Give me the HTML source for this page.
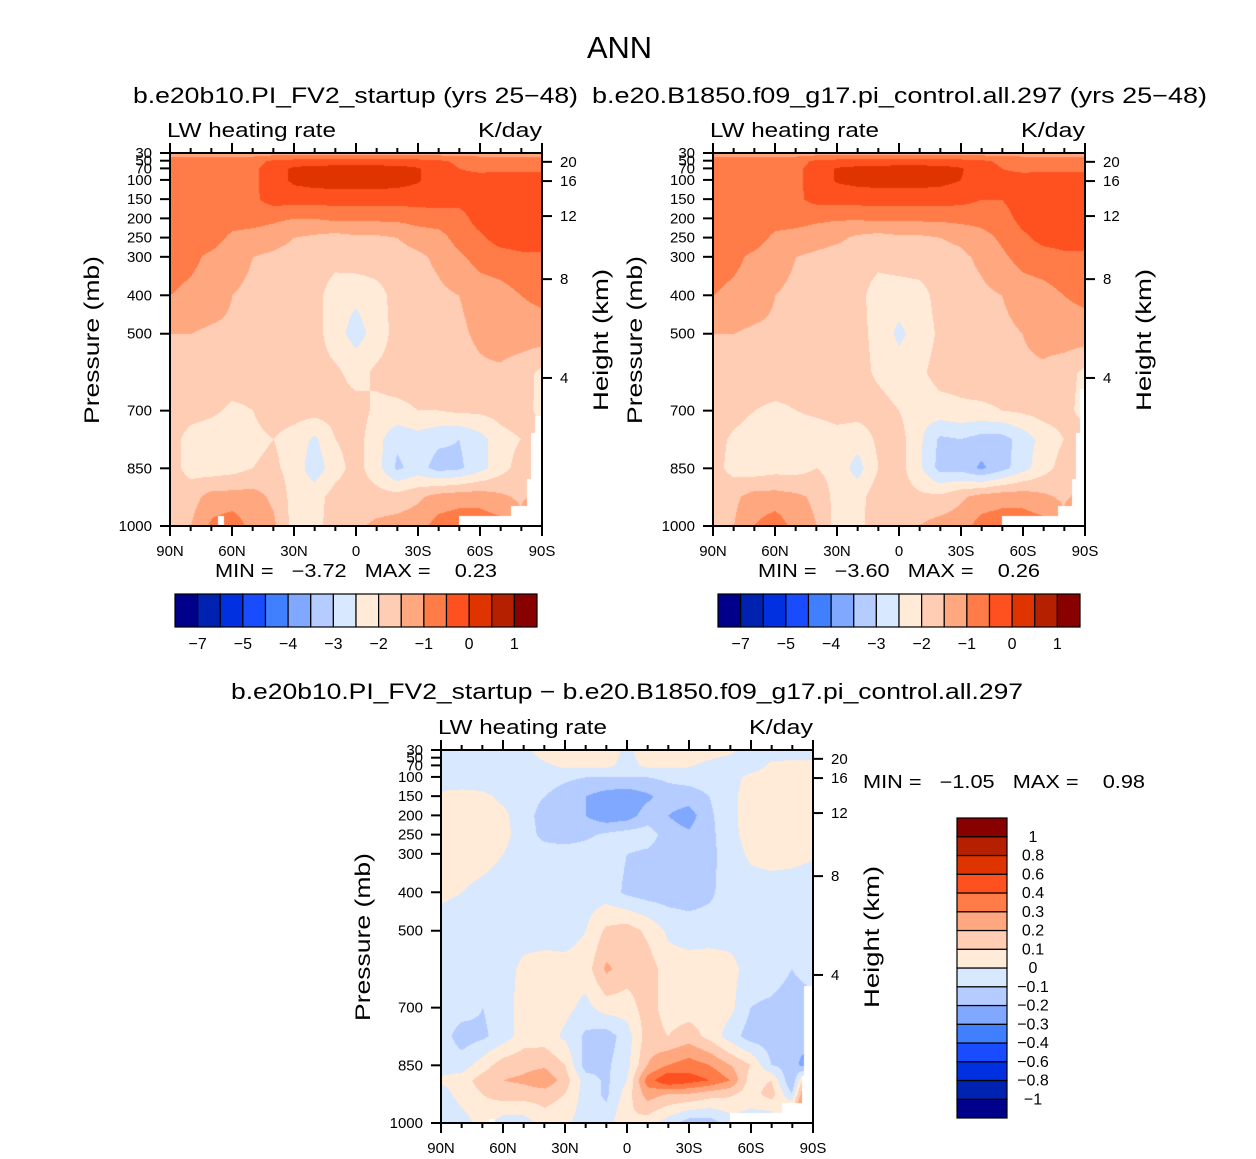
<!DOCTYPE html>
<html><head><meta charset="utf-8">
<style>
html,body{margin:0;padding:0;background:#fff;}
#wrap{position:relative;width:1256px;height:1159px;overflow:hidden;background:#fff;}
canvas{position:absolute;}
svg{position:absolute;left:0;top:0;}
text{font-family:"Liberation Sans",sans-serif;fill:#000;}
</style></head>
<body>
<div id="wrap">
<canvas id="c1" width="372" height="373" style="left:170px;top:153px"></canvas>
<canvas id="c2" width="372" height="373" style="left:713px;top:153px"></canvas>
<canvas id="c3" width="372" height="373" style="left:441px;top:750px"></canvas>
<svg id="ov" width="1256" height="1159"></svg>
</div>
<script>
// ---------------- data ----------------
const colors = ["#00008a","#0022b0","#0030e0","#1a4cff","#4080ff","#80a8ff","#b4ccff","#d8e8ff","#ffebd8","#ffccb4","#ffa880","#ff7c48","#ff5020","#e03400","#b42000","#880000"];
const latLabels = ["90N","60N","30N","0","30S","60S","90S"];
const pTicks = [30,50,70,100,150,200,250,300,400,500,700,850,1000];
const pTickLabels = ["30","50","70","100","150","200","250","300","400","500","700","850","1000"];
const kmTickLabels = ["20","16","12","8","4"];
const kmTickPressure = [53,103,194,358,615];
const thresholdsTop = [-7,-6,-5,-4.5,-4,-3.5,-3,-2.5,-2,-1.5,-1,-0.5,0,0.5,1];
const topBarLabels = ["−7","−5","−4","−3","−2","−1","0","1"];
const thresholdsDiff = [-1,-0.8,-0.6,-0.4,-0.3,-0.2,-0.1,0,0.1,0.2,0.3,0.4,0.6,0.8,1];
const diffBarLabels = ["1","0.8","0.6","0.4","0.3","0.2","0.1","0","−0.1","−0.2","−0.3","−0.4","−0.6","−0.8","−1"];
const levelsTop = [30,50,70,100,150,200,250,300,400,500,600,700,775,850,925,1000];
const levelsDiff = [30,70,100,150,200,250,300,400,500,600,700,775,850,890,925,1000];
const case1Values = [
[-1.2,-1.2,-1.2,-1.2,-1.2,-1.2,-1.2,-1.2,-1.2,-1.2,-1.2,-1.2,-1.2,-1.2,-1.2,-1.2,-1.2,-1.2,-1.2],
[-0.8,-0.8,-0.8,-0.8,-0.7,-0.4,-0.3,-0.3,-0.3,-0.3,-0.3,-0.3,-0.3,-0.4,-0.6,-0.7,-0.7,-0.7,-0.7],
[-0.8,-0.8,-0.8,-0.8,-0.6,-0.25,0.1,0.2,0.25,0.25,0.25,0.2,0.05,-0.25,-0.5,-0.6,-0.6,-0.6,-0.6],
[-0.8,-0.8,-0.8,-0.8,-0.6,-0.25,0.1,0.2,0.25,0.25,0.25,0.2,0.05,-0.25,-0.3,-0.3,-0.25,-0.25,-0.25],
[-0.8,-0.8,-0.8,-0.8,-0.6,-0.3,-0.3,-0.3,-0.3,-0.3,-0.3,-0.3,-0.3,-0.3,-0.35,-0.2,-0.2,-0.2,-0.2],
[-0.8,-0.8,-0.8,-0.8,-0.8,-0.9,-1.0,-1.0,-0.9,-0.9,-0.9,-0.9,-0.8,-0.75,-0.7,-0.3,-0.2,-0.2,-0.2],
[-0.75,-0.75,-0.8,-1.1,-1.2,-1.3,-1.5,-1.6,-1.7,-1.6,-1.6,-1.5,-1.3,-1.2,-0.8,-0.6,-0.3,-0.25,-0.25],
[-0.8,-0.9,-1.1,-1.3,-1.5,-1.6,-1.7,-1.7,-1.8,-1.7,-1.7,-1.7,-1.6,-1.4,-1.1,-0.8,-0.7,-0.6,-0.6],
[-1.0,-1.1,-1.2,-1.5,-1.6,-1.7,-1.75,-1.8,-2.3,-2.4,-2.2,-1.8,-1.7,-1.6,-1.5,-1.3,-1.2,-1.0,-0.9],
[-1.5,-1.5,-1.6,-1.6,-1.7,-1.75,-1.8,-1.8,-2.3,-2.7,-2.3,-1.8,-1.8,-1.7,-1.6,-1.4,-1.2,-1.2,-1.2],
[-1.6,-1.7,-1.7,-1.7,-1.75,-1.75,-1.8,-1.8,-1.9,-2.2,-1.9,-1.8,-1.8,-1.7,-1.7,-1.6,-1.6,-1.8,-2.1],
[-1.7,-1.8,-1.9,-2.1,-2.0,-1.8,-1.8,-1.8,-1.8,-1.8,-2.1,-2.1,-2.0,-2.0,-1.9,-1.9,-1.8,-1.7,-2.2],
[-1.8,-2.2,-2.3,-2.3,-2.1,-2.0,-2.2,-2.6,-2.0,-1.8,-2.3,-2.9,-2.7,-2.9,-3.0,-2.7,-2.2,-2.0,-1.6],
[-1.8,-2.2,-2.3,-2.2,-2.0,-1.9,-2.2,-2.8,-2.2,-1.8,-2.3,-3.1,-2.8,-3.2,-3.1,-2.7,-2.2,-1.8,-1.5],
[-1.7,-1.7,-1.3,-1.3,-1.3,-1.6,-2.2,-2.2,-1.8,-1.8,-1.8,-1.8,-1.6,-1.3,-1.2,-1.2,-1.4,-1.6,-1.3],
[-1.6,-1.5,-0.9,-0.7,-1.2,-1.4,-2.2,-2.2,-1.7,-1.6,-1.4,-1.3,-1.2,-0.8,-0.7,-0.7,-0.8,-1.3,-0.4]
];
const case2Values = [
[-1.2,-1.2,-1.2,-1.2,-1.2,-1.2,-1.2,-1.2,-1.2,-1.2,-1.2,-1.2,-1.2,-1.2,-1.2,-1.2,-1.2,-1.2,-1.2],
[-0.8,-0.8,-0.8,-0.8,-0.7,-0.4,-0.3,-0.3,-0.3,-0.3,-0.3,-0.3,-0.3,-0.4,-0.6,-0.7,-0.7,-0.7,-0.7],
[-0.8,-0.8,-0.8,-0.8,-0.6,-0.3,0.05,0.15,0.2,0.25,0.25,0.2,0.05,-0.25,-0.5,-0.6,-0.6,-0.6,-0.6],
[-0.8,-0.8,-0.8,-0.8,-0.6,-0.3,0.05,0.15,0.2,0.2,0.2,0.15,0.0,-0.3,-0.35,-0.3,-0.25,-0.25,-0.25],
[-0.8,-0.8,-0.8,-0.8,-0.6,-0.35,-0.3,-0.3,-0.3,-0.3,-0.3,-0.3,-0.35,-0.5,-0.5,-0.25,-0.2,-0.2,-0.2],
[-0.8,-0.8,-0.8,-0.8,-0.8,-0.9,-0.95,-0.95,-0.9,-0.9,-0.9,-0.9,-0.85,-0.8,-0.7,-0.35,-0.25,-0.2,-0.2],
[-0.75,-0.75,-0.8,-1.1,-1.2,-1.3,-1.4,-1.6,-1.7,-1.6,-1.6,-1.5,-1.4,-1.2,-0.9,-0.6,-0.35,-0.3,-0.3],
[-0.8,-0.9,-1.1,-1.3,-1.5,-1.6,-1.7,-1.7,-1.8,-1.7,-1.7,-1.7,-1.6,-1.4,-1.1,-0.8,-0.7,-0.6,-0.6],
[-1.0,-1.1,-1.2,-1.5,-1.6,-1.7,-1.75,-1.8,-2.3,-2.3,-2.2,-1.8,-1.7,-1.6,-1.5,-1.3,-1.2,-1.0,-0.9],
[-1.5,-1.5,-1.6,-1.6,-1.7,-1.75,-1.8,-1.8,-2.2,-2.6,-2.3,-1.9,-1.8,-1.7,-1.6,-1.5,-1.3,-1.2,-1.2],
[-1.6,-1.7,-1.7,-1.7,-1.75,-1.75,-1.8,-1.8,-2.1,-2.3,-2.1,-1.8,-1.8,-1.7,-1.7,-1.6,-1.6,-1.8,-2.1],
[-1.7,-1.8,-2.0,-2.1,-2.0,-1.9,-1.8,-1.8,-1.8,-2.0,-2.3,-2.2,-2.1,-2.1,-2.0,-1.9,-1.8,-1.8,-2.2],
[-1.8,-2.1,-2.3,-2.3,-2.3,-2.3,-2.2,-2.3,-1.9,-1.8,-2.4,-3.1,-3.0,-3.2,-3.2,-2.8,-2.3,-2.0,-1.6],
[-1.8,-2.2,-2.3,-2.2,-2.2,-2.0,-2.2,-2.7,-2.0,-1.8,-2.4,-3.2,-3.2,-3.6,-3.2,-2.7,-2.2,-1.8,-1.5],
[-1.7,-1.6,-1.3,-1.3,-1.4,-1.6,-2.2,-2.2,-1.7,-1.8,-1.9,-1.9,-1.6,-1.3,-1.2,-1.2,-1.4,-1.6,-1.3],
[-1.6,-1.5,-1.0,-0.7,-1.2,-1.5,-2.2,-2.2,-1.6,-1.6,-1.5,-1.3,-1.2,-0.8,-0.7,-0.7,-0.8,-1.3,-0.4]
];
const diffValues = [
[-0.05,-0.05,-0.05,-0.05,-0.03,0.05,0.06,0.06,0.05,-0.02,0.05,0.06,0.06,0.05,0.02,-0.05,-0.05,-0.05,-0.05],
[-0.05,-0.05,-0.05,-0.05,-0.05,-0.02,0.02,0.03,0.02,-0.03,0.02,0.02,0.01,-0.03,-0.05,-0.05,0.02,0.03,0.03],
[-0.05,-0.05,-0.05,-0.05,-0.05,-0.05,-0.08,-0.1,-0.1,-0.1,-0.1,-0.08,-0.06,-0.05,-0.04,0.03,0.05,0.05,0.05],
[0.02,0.03,0.02,-0.02,-0.05,-0.1,-0.15,-0.2,-0.25,-0.27,-0.22,-0.15,-0.15,-0.1,-0.03,0.05,0.06,0.06,0.06],
[0.05,0.06,0.05,0.02,-0.05,-0.15,-0.17,-0.2,-0.27,-0.25,-0.15,-0.2,-0.25,-0.12,-0.03,0.05,0.06,0.06,0.06],
[0.05,0.06,0.05,0.03,-0.05,-0.13,-0.15,-0.12,-0.08,-0.05,-0.05,-0.15,-0.18,-0.13,-0.03,0.04,0.06,0.06,0.06],
[0.05,0.05,0.04,0.0,-0.05,-0.05,-0.05,-0.05,-0.05,-0.1,-0.12,-0.15,-0.15,-0.13,-0.05,0.02,0.04,0.03,0.01],
[0.02,0.0,-0.03,-0.05,-0.05,-0.05,-0.05,-0.05,-0.05,-0.12,-0.15,-0.15,-0.15,-0.12,-0.05,-0.05,-0.05,-0.05,-0.05],
[-0.05,-0.05,-0.05,-0.05,-0.05,-0.05,-0.05,0.0,0.12,0.15,0.08,-0.02,-0.05,-0.05,-0.05,-0.05,-0.05,-0.05,-0.05],
[-0.05,-0.05,-0.05,-0.05,0.03,0.05,0.04,0.05,0.22,0.15,0.15,0.05,0.05,0.06,0.04,-0.05,-0.05,-0.1,-0.05],
[-0.05,-0.05,-0.1,-0.05,0.05,0.05,0.03,-0.03,0.05,0.05,0.15,0.05,0.05,0.05,0.03,-0.1,-0.12,-0.15,-0.15],
[-0.05,-0.15,-0.12,-0.05,0.05,0.05,-0.02,-0.12,-0.15,-0.05,0.15,0.1,0.15,0.07,-0.05,-0.15,-0.15,-0.2,-0.1],
[-0.05,-0.05,0.05,0.15,0.17,0.18,0.1,-0.15,-0.12,-0.03,0.2,0.3,0.35,0.3,0.2,0.1,-0.1,-0.15,-0.3],
[0.02,0.05,0.15,0.2,0.22,0.28,0.15,-0.05,-0.12,0.0,0.35,0.5,0.45,0.4,0.3,0.05,0.1,-0.2,0.4],
[-0.05,0.05,0.1,0.15,0.15,0.15,0.1,-0.05,-0.12,0.05,0.25,0.2,0.2,0.15,0.12,0.05,0.15,-0.1,0.6],
[-0.1,-0.05,0.05,-0.05,-0.05,0.05,0.02,-0.05,-0.05,0.1,0.05,-0.05,-0.15,-0.15,-0.05,-0.05,-0.1,0.3,0.7]
];
// missing-data regions: [latIndexStart, latIndexEnd, pressureBelowWhichMissing]
const missing1 = [[2.3,2.6,975],[14,16.5,975],[16.5,17.4,950],[17.3,17.5,880],[17.5,17.7,760],[17.7,18,715]];
const missing2 = [[14,16.7,975],[16.7,17.4,950],[17.4,17.6,880],[17.6,17.8,760],[17.8,18,645]];
const missing3 = [[2.3,2.6,990],[14,16.5,975],[16.5,17.5,950],[17.5,17.6,880],[17.6,18,645]];

// --------------- geometry ---------------
const NS="http://www.w3.org/2000/svg";
const ov=document.getElementById('ov');
const PW=372, PH=373;
function yOfP(y0,p){return y0+(p-30)/970*PH;}
function xOfLat(x0,i){return x0+i/6*PW;}
function el(tag,attrs,parent){const e=document.createElementNS(NS,tag);for(const k in attrs)e.setAttribute(k,attrs[k]);(parent||ov).appendChild(e);return e;}
function txt(x,y,s,size,anchor,parent){const t=el('text',{x:x,y:y,'font-size':size,'text-anchor':anchor||'start'},parent);t.textContent=s;return t;}
function fit(t,w){t.setAttribute('textLength',w);t.setAttribute('lengthAdjust','spacingAndGlyphs');return t;}

function fillPanel(id,levels,vals,thr,miss){
  const cv=document.getElementById(id),ctx=cv.getContext('2d');
  const img=ctx.createImageData(PW,PH);
  const rgb=colors.map(c=>[parseInt(c.substr(1,2),16),parseInt(c.substr(3,2),16),parseInt(c.substr(5,2),16)]);
  for(let py=0;py<PH;py++){
    const p=30+py/(PH-1)*970;
    let k=0;while(k<levels.length-2&&p>levels[k+1])k++;
    const t=(p-levels[k])/(levels[k+1]-levels[k]);
    for(let px=0;px<PW;px++){
      const f=px/(PW-1)*18;
      let j=Math.min(17,Math.floor(f));const u=f-j;
      let isMiss=false;
      for(const m of miss){if(f>=m[0]&&f<=m[1]&&p>=m[2]){isMiss=true;break;}}
      const o=(py*PW+px)*4;
      if(isMiss){img.data[o]=255;img.data[o+1]=255;img.data[o+2]=255;img.data[o+3]=255;continue;}
      const v=(1-t)*((1-u)*vals[k][j]+u*vals[k][j+1])+t*((1-u)*vals[k+1][j]+u*vals[k+1][j+1]);
      let c=0;while(c<thr.length&&v>=thr[c])c++;
      img.data[o]=rgb[c][0];img.data[o+1]=rgb[c][1];img.data[o+2]=rgb[c][2];img.data[o+3]=255;
    }
  }
  ctx.putImageData(img,0,0);
}

function axes(x0,y0,name){
  const g=el('g',{});
  
  
  el('rect',{x:x0,y:y0,width:PW,height:PH,fill:'none',stroke:'#000','stroke-width':2},g);
  for(let i=0;i<=18;i++){
    const x=x0+i/18*PW, major=i%3===0, L=major?10:5;
    el('line',{x1:x,y1:y0,x2:x,y2:y0-L,stroke:'#000','stroke-width':2},g);
    el('line',{x1:x,y1:y0+PH,x2:x,y2:y0+PH+L,stroke:'#000','stroke-width':2},g);
  }
  latLabels.forEach((s,i)=>{const t=txt(xOfLat(x0,i),y0+PH+30,s,15,'middle',g);
    });
  pTicks.forEach((p,i)=>{const y=yOfP(y0,p);
    el('line',{x1:x0-10,y1:y,x2:x0,y2:y,stroke:'#000','stroke-width':2},g);
    const t=txt(x0-18,y+5,pTickLabels[i],15,'end',g);
    });
  kmTickPressure.forEach((p,i)=>{const y=yOfP(y0,p);
    el('line',{x1:x0+PW,y1:y,x2:x0+PW+10,y2:y,stroke:'#000','stroke-width':2},g);
    const t=txt(x0+PW+18,y+5,kmTickLabels[i],15,'start',g);
    });
  const t1=fit(txt(x0-3,y0-16,'LW heating rate',20,'start',g),169);
  
  const t2=fit(txt(x0+PW-64,y0-16,'K/day',20,'start',g),64);
  
  const cy=y0+187;
  const a=fit(txt(0,0,'Pressure (mb)',21,'middle',g),168);
  a.setAttribute('transform','translate('+(x0-71)+','+cy+') rotate(-90)');
  
  const b=fit(txt(0,0,'Height (km)',21,'middle',g),142);
  b.setAttribute('transform','translate('+(x0+PW+66)+','+cy+') rotate(-90)');
  
}

function hBar(x0,y0,name){
  const g=el('g',{});
  
  
  const w=362/16;
  colors.forEach((c,i)=>{const r=el('rect',{x:x0+i*w,y:y0,width:w,height:33,fill:c,stroke:'#000','stroke-width':1.2},g);
    });
  topBarLabels.forEach((s,i)=>{const t=txt(x0+(2*i+1)*w,y0+55,s,16,'middle',g);
    });
}

fillPanel('c1',levelsTop,case1Values,thresholdsTop,missing1);
fillPanel('c2',levelsTop,case2Values,thresholdsTop,missing2);
fillPanel('c3',levelsDiff,diffValues,thresholdsDiff,missing3);

axes(170,153,'case1');
axes(713,153,'case2');
axes(441,750,'difference');

let t;
t=fit(txt(587,58,'ANN',31,'start'),65);
t=fit(txt(133,103,'b.e20b10.PI_FV2_startup (yrs 25−48)',22,'start'),445);
t=fit(txt(592,103,'b.e20.B1850.f09_g17.pi_control.all.297 (yrs 25−48)',22,'start'),615);
t=fit(txt(231,699,'b.e20b10.PI_FV2_startup − b.e20.B1850.f09_g17.pi_control.all.297',22,'start'),792);
t=fit(txt(215,577,'MIN =   −3.72   MAX =    0.23',18,'start'),282);t.style.whiteSpace='pre';
t=fit(txt(758,577,'MIN =   −3.60   MAX =    0.26',18,'start'),282);t.style.whiteSpace='pre';
t=fit(txt(863,788,'MIN =   −1.05   MAX =    0.98',18,'start'),282);t.style.whiteSpace='pre';

hBar(175,594,'case1-colorbar');
hBar(718,594,'case2-colorbar');

// vertical colorbar for difference
const vg=el('g',{});


const bh=300/16;
colors.forEach((c,i)=>{const r=el('rect',{x:957,y:818+(15-i)*bh,width:50,height:bh,fill:c,stroke:'#000','stroke-width':1.2},vg);
  });
diffBarLabels.forEach((s,i)=>{const tt=txt(1033,818+(i+1)*bh+5,s,16,'middle',vg);
  });
</script>
</body></html>
